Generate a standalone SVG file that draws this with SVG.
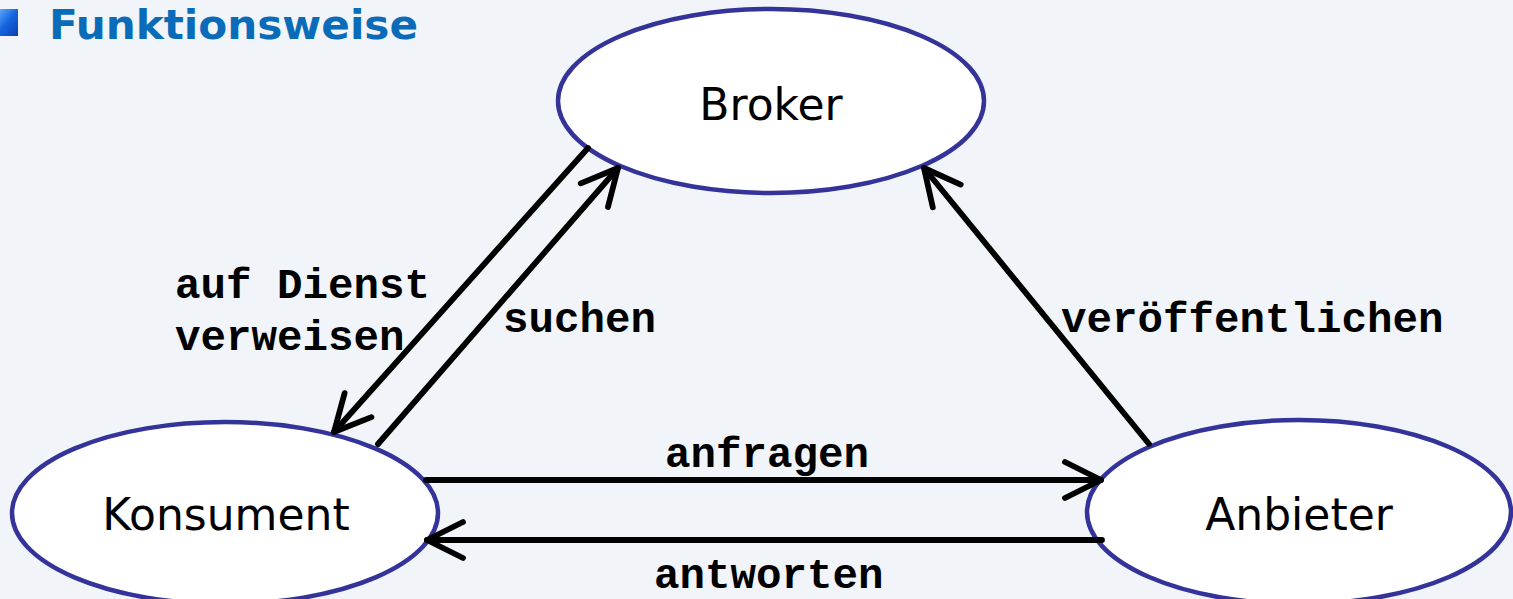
<svg xmlns="http://www.w3.org/2000/svg" width="1513" height="599" viewBox="0 0 1513 599">
  <style>
    .node ellipse { fill: #ffffff; stroke: #333399; stroke-width: 4.5; }
    .node text { font-family: "DejaVu Sans", Verdana, sans-serif; font-size: 44px; fill: #000000; text-anchor: middle; }
    .edge { fill: none; stroke: #000000; stroke-width: 5.8; stroke-linecap: round; marker-end: url(#open-arrow); }
    .lbl { font-family: "Liberation Mono", "Courier New", monospace; font-weight: bold; font-size: 42.5px; fill: #000000; }
    .title { font-family: "DejaVu Sans", Verdana, sans-serif; font-weight: bold; font-size: 40px; fill: #0a6cb8; }
  </style>
  <defs>
    <marker id="open-arrow" markerUnits="userSpaceOnUse" markerWidth="60" markerHeight="60" viewBox="-45 -30 60 60" refX="0" refY="0" orient="auto">
      <path d="M-36,-18 L0,0 L-36,18" fill="none" stroke="#000000" stroke-width="5.8" stroke-linecap="round" stroke-linejoin="round"/>
    </marker>
    <linearGradient id="bullet-grad" x1="0" y1="0" x2="1" y2="1">
      <stop offset="0" stop-color="#6fb6ff"/>
      <stop offset="0.5" stop-color="#1565e0"/>
      <stop offset="1" stop-color="#0a3fb0"/>
    </linearGradient>
  </defs>

  <rect x="0" y="0" width="1513" height="599" fill="#f1f5f9"/>

  <!-- heading -->
  <rect x="-4" y="9" width="22" height="27" fill="url(#bullet-grad)"/>
  <text class="title" x="49" y="39" textLength="369" lengthAdjust="spacingAndGlyphs">Funktionsweise</text>

  <!-- nodes -->
  <g id="broker" class="node">
    <ellipse cx="771" cy="101" rx="213" ry="92"/>
    <text x="771" y="120">Broker</text>
  </g>
  <g id="konsument" class="node">
    <ellipse cx="225" cy="513" rx="213" ry="91"/>
    <text x="226" y="530">Konsument</text>
  </g>
  <g id="anbieter" class="node">
    <ellipse cx="1299" cy="512" rx="212" ry="92"/>
    <text x="1299" y="530">Anbieter</text>
  </g>

  <!-- connectors -->
  <g id="connectors">
    <line class="edge" x1="588" y1="148" x2="334" y2="432"/>
    <line class="edge" x1="378" y1="444" x2="618" y2="168"/>
    <line class="edge" x1="1149" y1="444" x2="924" y2="168"/>
    <line class="edge" x1="426" y1="480" x2="1101" y2="480"/>
    <line class="edge" x1="1102" y1="540" x2="427" y2="540"/>
  </g>

  <!-- connector labels -->
  <g id="labels">
    <text class="lbl" x="175" y="298">auf Dienst</text>
    <text class="lbl" x="175" y="350">verweisen</text>
    <text class="lbl" x="503" y="332">suchen</text>
    <text class="lbl" x="1061" y="332">veröffentlichen</text>
    <text class="lbl" x="665" y="467">anfragen</text>
    <text class="lbl" x="654" y="588">antworten</text>
  </g>
</svg>
